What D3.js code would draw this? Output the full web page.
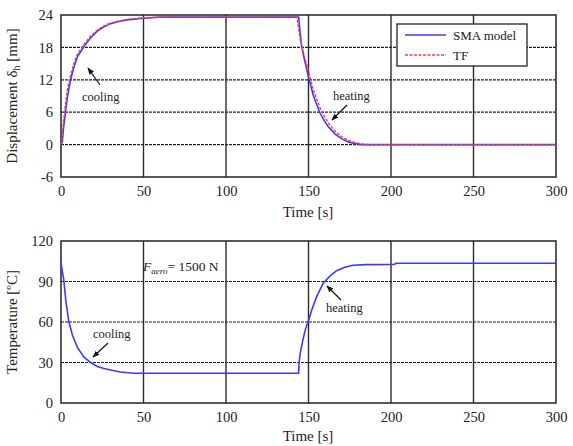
<!DOCTYPE html>
<html><head><meta charset="utf-8">
<script src="https://cdn.jsdelivr.net/npm/d3@7"></script>
<style>body{margin:0;background:#fff}svg{display:block}text{font-family:"Liberation Serif","Times New Roman",serif;fill:#222}</style>
</head><body>
<svg id="c" width="573" height="446"></svg>
<script>
const timeTicks = [0,50,100,150,200,250,300];
const dispTicks = [-6,0,6,12,18,24];
const tempTicks = [0,30,60,90,120];

const smaTime = [0,0.8,1.5,2.7,4,5.8,8,10,14,18,22,26,30,35,40,50,60,144,144.5,145.6,147,150,153,157,160,162,166,170,174,178,182,300];
const smaDisp = [0,0.5,3,6,9,12,14.5,16.3,18.2,19.8,21,21.8,22.4,22.8,23.1,23.4,23.6,23.6,22,18.8,16.5,12.5,9,5.8,4.2,3.3,2,1.1,0.5,0.2,0,0];

const tfTime = [0,0.6,1.4,2.5,4,5.5,8,10,14,18,22,26,30,35,40,50,60,143,143.5,145,147,150,153,157,160,163,166,170,174,178,182,186,300];
const tfDisp = [0,1,4,7,10.5,12.5,15.2,16.8,18.6,20.1,21.2,22,22.5,22.9,23.2,23.5,23.6,23.6,22.5,19.5,17,13.5,10,6.8,5,3.6,2.5,1.5,0.8,0.4,0.1,0,0];

const tempTime = [0,0.5,1.7,3,4.8,7,10,14,18,22,26,30,36,44,144,144.3,145,146.5,148,150,152,155,159,163,167,172,177,185,202,203,300];
const tempVal = [104,100,91,75,60,50,41,34,30,27,25.5,24.5,23,22,22,30,37,46,54,61,69,79,89,94,98,100.5,102,102.5,102.7,103.5,103.5];

const svg = d3.select("#c");
const X0 = 61, X1 = 556;

function panel(top, bottom, domain, ticks) {
  const x = d3.scaleLinear().domain([0,300]).range([X0,X1]);
  const y = d3.scaleLinear().domain(domain).range([bottom,top]);
  const g = svg.append("g");
  g.selectAll(".vg").data(timeTicks.slice(1,-1)).join("line")
    .attr("x1",d=>x(d)).attr("x2",d=>x(d)).attr("y1",top).attr("y2",bottom)
    .attr("stroke","#2a2a2a").attr("stroke-width",1.4);
  g.selectAll(".hg").data(ticks.slice(1,-1)).join("line")
    .attr("x1",X0).attr("x2",X1).attr("y1",d=>y(d)).attr("y2",d=>y(d))
    .attr("stroke","#222").attr("stroke-width",1.2).attr("stroke-dasharray","3,1");
  const fmt = d => String(d);
  const ax = g.append("g").attr("transform",`translate(0,${bottom})`)
    .call(d3.axisBottom(x).tickValues(timeTicks).tickFormat(fmt).tickSize(0).tickPadding(9));
  const ay = g.append("g").attr("transform",`translate(${X0},0)`)
    .call(d3.axisLeft(y).tickValues(ticks).tickFormat(fmt).tickSize(0).tickPadding(8));
  [ax,ay].forEach(a=>{a.select(".domain").remove();a.selectAll("text").attr("font-size",14.5).attr("fill","#222");});
  g.append("rect").attr("x",X0).attr("y",top).attr("width",X1-X0).attr("height",bottom-top)
    .attr("fill","none").attr("stroke","#222").attr("stroke-width",1.5);
  return {x,y,g};
}

svg.append("defs").append("marker").attr("id","ah").attr("viewBox","0 0 10 10").attr("refX",9).attr("refY",5)
  .attr("markerWidth",7).attr("markerHeight",7).attr("orient","auto-start-reverse").attr("markerUnits","userSpaceOnUse")
  .append("path").attr("d","M0,1 L10,5 L0,9 Z").attr("fill","#111");

// top panel
const p1 = panel(15,177,[-6,24],dispTicks);
const line1 = d3.line().x(d=>p1.x(d[0])).y(d=>p1.y(d[1]));
p1.g.append("path").datum(smaTime.map((t,i)=>[t,smaDisp[i]])).attr("d",line1)
  .attr("fill","none").attr("stroke","#3b3bff").attr("stroke-width",1.6);
p1.g.append("path").datum(tfTime.map((t,i)=>[t,tfDisp[i]])).attr("d",line1)
  .attr("fill","none").attr("stroke","#ff3b3b").attr("stroke-width",1.4).attr("stroke-dasharray","3,1.5");

// legend
const lg = svg.append("g");
lg.append("rect").attr("x",397).attr("y",24).attr("width",130).attr("height",42).attr("fill","#fff").attr("stroke","#222").attr("stroke-width",1.3);
lg.append("line").attr("x1",405).attr("x2",446).attr("y1",35).attr("y2",35).attr("stroke","#3b3bff").attr("stroke-width",1.6);
lg.append("line").attr("x1",405).attr("x2",446).attr("y1",55).attr("y2",55).attr("stroke","#ff3b3b").attr("stroke-width",1.4).attr("stroke-dasharray","3,1.5");
lg.append("text").attr("x",453).attr("y",39.5).attr("font-size",13).text("SMA model");
lg.append("text").attr("x",453).attr("y",59.5).attr("font-size",13).text("TF");

// annotations top
svg.append("text").attr("x",82).attr("y",101).attr("font-size",12.5).text("cooling");
svg.append("line").attr("x1",100).attr("y1",85).attr("x2",88).attr("y2",68).attr("stroke","#111").attr("stroke-width",1.2).attr("marker-end","url(#ah)");
svg.append("text").attr("x",333).attr("y",100).attr("font-size",12.5).text("heating");
svg.append("line").attr("x1",347).attr("y1",105).attr("x2",332).attr("y2",120).attr("stroke","#111").attr("stroke-width",1.2).attr("marker-end","url(#ah)");

svg.append("text").attr("x",308).attr("y",217).attr("text-anchor","middle").attr("font-size",15).text("Time [s]");
const yt1 = svg.append("text").attr("transform","translate(17,96) rotate(-90)").attr("text-anchor","middle").attr("font-size",15);
yt1.append("tspan").text("Displacement δ");
yt1.append("tspan").attr("font-size",10).attr("dy",3).text("h");
yt1.append("tspan").attr("dy",-3).text(" [mm]");

// bottom panel
const p2 = panel(241,403,[0,120],tempTicks);
const line2 = d3.line().x(d=>p2.x(d[0])).y(d=>p2.y(d[1]));
p2.g.append("path").datum(tempTime.map((t,i)=>[t,tempVal[i]])).attr("d",line2)
  .attr("fill","none").attr("stroke","#3b3bff").attr("stroke-width",1.6);

const ft = svg.append("text").attr("x",143).attr("y",271).attr("font-size",13.5);
ft.append("tspan").attr("font-style","italic").text("F");
ft.append("tspan").attr("font-style","italic").attr("font-size",9).attr("dy",3).text("aero");
ft.append("tspan").attr("dy",-3).text("= 1500 N");

svg.append("text").attr("x",93).attr("y",338).attr("font-size",12.5).text("cooling");
svg.append("line").attr("x1",108).attr("y1",343).attr("x2",93).attr("y2",357).attr("stroke","#111").attr("stroke-width",1.2).attr("marker-end","url(#ah)");
svg.append("text").attr("x",326).attr("y",312).attr("font-size",12.5).text("heating");
svg.append("line").attr("x1",341).attr("y1",300).attr("x2",327).attr("y2",286).attr("stroke","#111").attr("stroke-width",1.2).attr("marker-end","url(#ah)");

svg.append("text").attr("x",308).attr("y",441).attr("text-anchor","middle").attr("font-size",15).text("Time [s]");
svg.append("text").attr("transform","translate(17,322) rotate(-90)").attr("text-anchor","middle").attr("font-size",15).text("Temperature [ºC]");
</script>
</body></html>
